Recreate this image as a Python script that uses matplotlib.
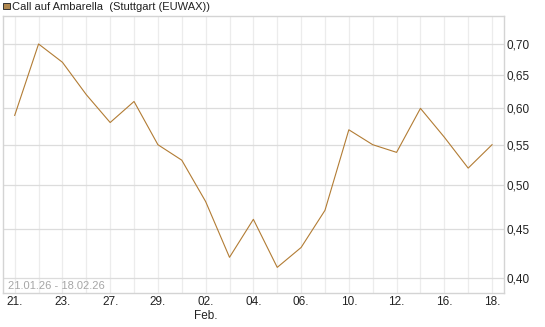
import matplotlib
matplotlib.use('Agg')
import matplotlib.pyplot as plt
from matplotlib.patches import Rectangle
from matplotlib.ticker import FixedLocator, FuncFormatter, NullLocator

# Handelstage 21.01.26 - 18.02.26
tage = ['21.', '22.', '23.', '26.', '27.', '28.', '29.', '30.',
        '02.', '03.', '04.', '05.', '06.', '09.', '10.', '11.', '12.', '13.',
        '16.', '17.', '18.']
kurse = [0.59, 0.70, 0.67, 0.62, 0.58, 0.61, 0.55, 0.53, 0.48, 0.42, 0.46,
         0.41, 0.43, 0.47, 0.57, 0.55, 0.54, 0.60, 0.56, 0.52, 0.55]
y_ticks = [0.40, 0.45, 0.50, 0.55, 0.60, 0.65, 0.70]
titel = 'Call auf Ambarella  (Stuttgart (EUWAX))'
zeitraum = '21.01.26 - 18.02.26'

plt.rcParams['font.family'] = ['Liberation Sans', 'DejaVu Sans']

fig = plt.figure(figsize=(5.45, 3.27), dpi=100)
W, H = 545, 327
ax = fig.add_axes([3 / W, 1 - 293 / H, 500.5 / W, 276.6 / H])

x = list(range(len(kurse)))
ax.plot(x, kurse, color='#b27c34', lw=0.8)

ax.set_yscale('log')
ax.set_xlim(-0.49, 20.48)
ax.set_ylim(0.3856, 0.7478)

# Gitter
for i in x:
    ax.axvline(i, color='#ececec', lw=0.9, zorder=0)
for v in y_ticks:
    ax.axhline(v, color='#dcdcdc', lw=0.9, zorder=0)

ax.yaxis.set_major_locator(FixedLocator(y_ticks))
ax.yaxis.set_minor_locator(NullLocator())
ax.yaxis.set_major_formatter(FuncFormatter(lambda v, p: f'{v:.2f}'.replace('.', ',')))
ax.yaxis.tick_right()

x_pos = x[::2]
x_lab = [tage[i] if tage[i] != '02.' else '02.\nFeb.' for i in x_pos]
ax.set_xticks(x_pos)
ax.set_xticklabels(x_lab, linespacing=1.3)
ax.tick_params(axis='both', length=0, labelsize=8.5, colors='#222222')
ax.tick_params(axis='x', pad=2)
ax.tick_params(axis='y', pad=2.5)

for s in ax.spines.values():
    s.set_color('#d4d4d4')
    s.set_linewidth(1.0)

ax.text(8 / W, 1 - 286 / H, zeitraum, transform=fig.transFigure,
        fontsize=8, color='#a6a6a6', va='center', ha='left')

# Titel mit Farbkästchen
fig.patches.append(Rectangle((3 / W, 1 - 9 / H), 6.5 / W, 6.5 / H,
                             transform=fig.transFigure, facecolor='#b08850',
                             edgecolor='#333333', lw=0.7))
fig.text(12 / W, 1 - 7 / H, titel, fontsize=8, color='#222222',
         va='center', ha='left')

fig.savefig('out.png', dpi=100)
